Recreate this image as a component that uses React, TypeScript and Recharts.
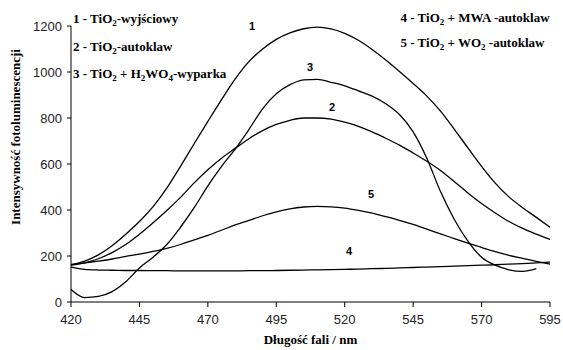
import React from "react";
import { LineChart, Line, XAxis, YAxis } from "recharts";

// wavelength, nm
const wavelengths = [
    420, 425, 430, 435, 440, 445, 450, 455, 460, 465, 470, 475, 480, 485, 490, 495, 500, 505,
    510, 515, 520, 525, 530, 535, 540, 545, 550, 555, 560, 565, 570, 575, 580, 585, 590, 595,
];

// 1 - TiO2-wyjściowy
const curve1 = [
    162, 178, 205, 245, 295, 350, 415, 495, 590, 688, 785, 880, 970, 1045, 1100, 1142, 1170, 1188,
    1195, 1187, 1168, 1138, 1098, 1052, 1002, 950, 895, 830, 752, 670, 590, 517, 457, 410, 368, 325,
];
// 2 - TiO2-autoklaw
const curve2 = [
    160, 170, 188, 215, 250, 295, 345, 398, 455, 518, 575, 625, 668, 710, 745, 772, 790, 800,
    800, 795, 782, 764, 740, 712, 682, 648, 612, 572, 524, 474, 428, 387, 350, 320, 295, 272,
];
// 3 - TiO2 + H2WO4-wyparka
const curve3 = [
    54, 19, 24, 45, 88, 148, 195, 250, 325, 410, 505, 590, 665, 750, 840, 905, 945, 966,
    968, 955, 940, 918, 895, 862, 815, 740, 625, 480, 360, 265, 195, 160, 140, 133, 145, null,
];
// 4 - TiO2 + MWA -autoklaw
const curve4 = [
    152, 142, 139, 138, 137, 137, 136, 136, 135, 135, 135, 135, 135, 136, 136, 137, 138, 139,
    140, 141, 142, 143, 145, 146, 148, 150, 152, 154, 156, 158, 160, 162, 165, 167, 170, 173,
];
// 5 - TiO2 + WO2 -autoklaw
const curve5 = [
    162, 170, 178, 187, 198, 208, 220, 233, 250, 270, 290, 312, 335, 355, 375, 392, 405, 413,
    416, 414, 408, 398, 386, 371, 355, 337, 317, 296, 276, 256, 237, 219, 203, 190, 177, 165,
];

const xTicks = [420, 445, 470, 495, 520, 545, 570, 595];
const yTicks = [0, 200, 400, 600, 800, 1000, 1200];

const data = wavelengths.map((nm, i) => ({
    nm,
    c1: curve1[i],
    c2: curve2[i],
    c3: curve3[i],
    c4: curve4[i],
    c5: curve5[i],
}));

const SERIF = '"Liberation Serif", "Times New Roman", serif';
const SANS = '"Liberation Sans", Arial, sans-serif';

type Part = [string, boolean];

const RichText = ({ x, y, parts }: { x: number; y: number; parts: Part[] }) => {
    let sub = false;
    return (
        <text x={x} y={y} fontFamily={SERIF} fontWeight="bold" fontSize={13} fill="#000">
            {parts.map(([t, isSub], i) => {
                let dy = 0;
                if (isSub && !sub) dy = 3;
                if (!isSub && sub) dy = -3;
                sub = isSub;
                return (
                    <tspan key={i} dy={dy} fontSize={isSub ? 9 : 13}>
                        {t}
                    </tspan>
                );
            })}
        </text>
    );
};

const Overlay = () => (
    <svg
        width={563}
        height={350}
        style={{ position: "absolute", left: 0, top: 0, pointerEvents: "none" }}
    >
        <RichText x={73} y={23} parts={[["1 - TiO", false], ["2", true], ["-wyjściowy", false]]} />
        <RichText x={73} y={50.5} parts={[["2 - TiO", false], ["2", true], ["-autoklaw", false]]} />
        <RichText
            x={73}
            y={77.5}
            parts={[["3 - TiO", false], ["2", true], [" + H", false], ["2", true], ["WO", false], ["4", true], ["-wyparka", false]]}
        />
        <RichText x={400.5} y={21.5} parts={[["4 - TiO", false], ["2", true], [" + MWA -autoklaw", false]]} />
        <RichText x={400.5} y={46.5} parts={[["5 - TiO", false], ["2", true], [" + WO", false], ["2", true], [" -autoklaw", false]]} />

        <g fontFamily={SANS} fontWeight="bold" fontSize={11} fill="#000" textAnchor="middle">
            <text x={252} y={30}>1</text>
            <text x={310} y={71}>3</text>
            <text x={332} y={111}>2</text>
            <text x={371} y={198}>5</text>
            <text x={349} y={255}>4</text>
        </g>

        <text x={310.5} y={343.5} textAnchor="middle" fontFamily={SERIF} fontWeight="bold" fontSize={13}>
            Długość fali / nm
        </text>
        <text
            x={20}
            y={137}
            textAnchor="middle"
            fontFamily={SERIF}
            fontWeight="bold"
            fontSize={13}
            transform="rotate(-90, 20, 137)"
        >
            Intensywność fotoluminescencji
        </text>
    </svg>
);

const App = () => {
    const lineProps = {
        type: "monotone" as const,
        stroke: "#000",
        strokeWidth: 1.3,
        dot: false,
        activeDot: false,
        isAnimationActive: false,
    };

    return (
        <div style={{ position: "absolute", left: 0, top: 0, width: 563, height: 350 }}>
            <LineChart width={563} height={350} data={data} margin={{ top: 26, right: 13, bottom: 18, left: 21 }}>
                <XAxis
                    dataKey="nm"
                    type="number"
                    domain={[420, 595]}
                    ticks={xTicks}
                    height={30}
                    stroke="#000"
                    tickSize={5}
                    tickMargin={8}
                    tick={{ fontFamily: SANS, fontSize: 13, fill: "#222" }}
                />
                <YAxis
                    type="number"
                    domain={[0, 1200]}
                    ticks={yTicks}
                    width={50}
                    stroke="#000"
                    tickSize={4}
                    tickMargin={5}
                    tick={{ fontFamily: SANS, fontSize: 13, fill: "#222" }}
                />
                <Line dataKey="c1" {...lineProps} />
                <Line dataKey="c2" {...lineProps} />
                <Line dataKey="c3" {...lineProps} />
                <Line dataKey="c4" {...lineProps} />
                <Line dataKey="c5" {...lineProps} />
            </LineChart>
            <Overlay />
        </div>
    );
};

export default App;
